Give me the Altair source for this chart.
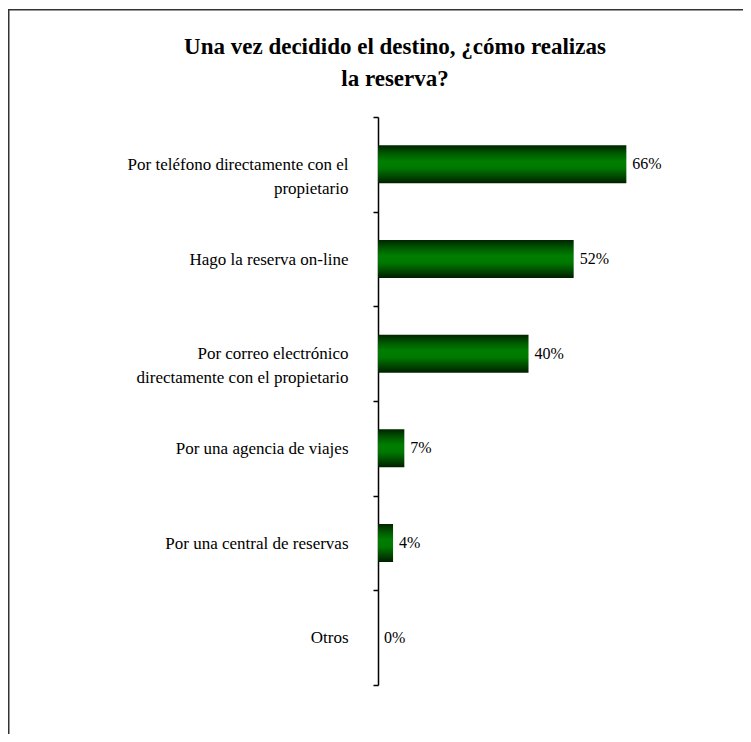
import altair as alt
import pandas as pd

categories = [
    "Por teléfono directamente con el\npropietario",
    "Hago la reserva on-line",
    "Por correo electrónico\ndirectamente con el propietario",
    "Por una agencia de viajes",
    "Por una central de reservas",
    "Otros",
]
values = [66, 52, 40, 7, 4, 0]
value_labels = ["66%", "52%", "40%", "7%", "4%", "0%"]
title_lines = ["Una vez decidido el destino, ¿cómo realizas", "la reserva?"]

df = pd.DataFrame({"categoria": categories, "porcentaje": values, "etiqueta": value_labels})

W, H = 365, 568
PL, PT = 370, 109
PB = 726 - PT - H
SERIF = "Liberation Serif"

grad = alt.LinearGradient(
    gradient="linear", x1=0, x2=0, y1=0, y2=1,
    stops=[
        alt.GradientStop(color="#002400", offset=0),
        alt.GradientStop(color="#005a00", offset=0.22),
        alt.GradientStop(color="#007e00", offset=0.42),
        alt.GradientStop(color="#007800", offset=0.6),
        alt.GradientStop(color="#004800", offset=0.82),
        alt.GradientStop(color="#001e00", offset=1),
    ],
)

y = alt.Y(
    "categoria:N",
    sort=categories,
    scale=alt.Scale(paddingInner=0, paddingOuter=0),
    axis=alt.Axis(
        title=None,
        grid=False,
        tickBand="extent",
        domainColor="black",
        domainWidth=1.5,
        tickColor="black",
        tickWidth=1.5,
        tickSize=5,
        labelPadding=25,
        labelFont=SERIF,
        labelFontSize=17,
        labelColor="black",
        labelLineHeight=24,
        labelLimit=400,
        labelExpr="split(datum.label, '\\n')",
    ),
)
x = alt.X("porcentaje:Q", scale=alt.Scale(domain=[0, 97], nice=False, zero=True), axis=None)

base = alt.Chart(df)
bars = base.mark_bar(size=38, color=grad).encode(x=x, y=y)
labels = base.mark_text(
    align="left", baseline="middle", dx=6, font=SERIF, fontSize=16, color="black"
).encode(x=x, y=y, text="etiqueta:N")

one = pd.DataFrame({"k": [0]})
frame = alt.Chart(one).mark_rect(
    fillOpacity=0, stroke="#333333", strokeWidth=1.5, clip=False
).encode(
    x=alt.value(-369.25), x2=alt.value(W + 60),
    y=alt.value(-107.25), y2=alt.value(H + 120),
)

title = alt.Chart(one).mark_text(
    text=title_lines,
    align="center",
    baseline="alphabetic",
    font=SERIF,
    fontSize=23,
    fontWeight="bold",
    lineHeight=32,
    color="black",
    clip=False,
).encode(x=alt.value(17), y=alt.value(-63))

chart = alt.layer(frame, bars, labels, title).properties(
    width=W,
    height=H,
    padding={"left": PL, "top": PT, "right": 0, "bottom": PB},
    autosize=alt.AutoSizeParams(type="none"),
).configure_view(stroke=None)

chart.save("out.html", embed_options={"renderer": "svg", "actions": False})
